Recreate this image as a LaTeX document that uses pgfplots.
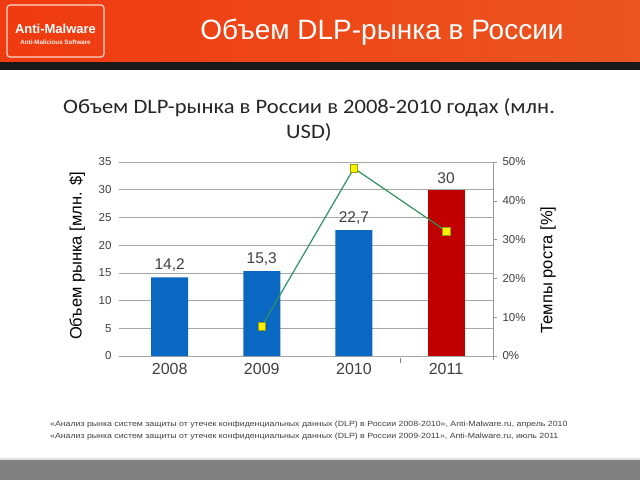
\documentclass[border=0pt]{standalone}
\usepackage{fontspec}
\setmainfont{Liberation Sans}
\newfontfamily\carlito{Carlito}
\usepackage{pgfplots}
\pgfplotsset{compat=1.18}
\definecolor{barblue}{HTML}{0A67C2}
\definecolor{barred}{HTML}{C00000}
\definecolor{linegreen}{HTML}{2F9260}
\definecolor{mkborder}{HTML}{9A9A10}
\definecolor{txtgray}{HTML}{404040}
\definecolor{hdrL}{HTML}{F03A10}
\definecolor{hdrR}{HTML}{EA5520}
\begin{document}
\begin{tikzpicture}[x=1pt,y=1pt]
\useasboundingbox (0,0) rectangle (640,480);
\fill[white] (0,0) rectangle (640,480);
% header
\shade[left color=hdrL, right color=hdrR] (0,418) rectangle (640,480);
\fill[black!90] (0,410) rectangle (640,418);
\draw[white!80!hdrL, line width=1.2pt, rounded corners=3pt] (7,423) rectangle (104,475);
\node[white, font=\bfseries\fontsize{13}{15}\selectfont] at (55.5,451) {Anti-Malware};
\node[white!92!hdrL, font=\bfseries\fontsize{6.2}{7}\selectfont] at (55.5,438) {Anti-Malicious Software};
\node[white, font=\fontsize{28}{31}\selectfont] at (382,448) {Объем DLP-рынка в России};
% chart title
\node[black!85, align=center, xscale=1.1, font=\carlito\fontsize{20.5}{25}\selectfont] at (309,360) {Объем DLP-рынка в России в 2008-2010 годах (млн.\\USD)};
% footnotes
\node[anchor=west, txtgray, xscale=1.17, font=\fontsize{7.5}{9}\selectfont] at (46,55) {«Анализ рынка систем защиты от утечек конфиденциальных данных (DLP) в России 2008-2010», Anti-Malware.ru, апрель 2010};
\node[anchor=west, txtgray, xscale=1.17, font=\fontsize{7.5}{9}\selectfont] at (46,43) {«Анализ рынка систем защиты от утечек конфиденциальных данных (DLP) в России 2009-2011», Anti-Malware.ru, июль 2011};
% bottom bar
\fill[black!12] (0,20) rectangle (640,22);
\fill[gray] (0,0) rectangle (640,20);

\begin{axis}[
  at={(119pt,124pt)}, anchor=south west,
  scale only axis, width=374pt, height=194pt,
  xmin=-0.55, xmax=3.51, ymin=0, ymax=35,
  ytick={0,5,...,35},
  xtick={0,1,2,3}, xticklabels={2008,2009,2010,2011},
  axis line style={draw=none},
  major tick length=0pt,
  ymajorgrids, grid style={gray!70, line width=0.6pt},
  yticklabel style={text=txtgray, font=\fontsize{11.5}{13}\selectfont, xshift=-4pt},
  xticklabel style={text=txtgray, font=\fontsize{16}{18}\selectfont, yshift=-4pt},
  /pgf/number format/assume math mode=true,
  ylabel={Объем рынка [млн. \$]},
  ylabel style={at={(axis description cs:-0.112,0.515)}, anchor=center, font=\fontsize{16.5}{18}\selectfont, text=black},
  clip=false,
]
\addplot[ybar, bar width=37pt, fill=barblue, draw=none, bar shift=0pt,
  nodes near coords, nodes near coords style={text=txtgray, font=\fontsize{15.5}{17}\selectfont, /pgf/number format/use comma, yshift=2pt}]
  coordinates {(0,14.2) (1,15.3) (2,22.7)};
\addplot[ybar, bar width=37pt, fill=barred, draw=none, bar shift=0pt,
  nodes near coords, nodes near coords style={text=txtgray, font=\fontsize{15.5}{17}\selectfont, yshift=3pt}]
  coordinates {(3,30)};
\draw[gray, line width=0.6pt] (axis cs:2.5,-0.3) -- (axis cs:2.5,-1.2);
\end{axis}

\begin{axis}[
  at={(119pt,124pt)}, anchor=south west,
  scale only axis, width=374pt, height=194pt,
  xmin=-0.55, xmax=3.51, ymin=0, ymax=50,
  axis x line=none,
  axis y line*=right,
  y axis line style={gray!80, line width=0.7pt, shorten <=-4pt},
  ytick={0,10,...,50}, yticklabels={0\%,10\%,20\%,30\%,40\%,50\%},
  tick style={gray!80, line width=0.6pt},
  major tick length=4pt,
  tick align=outside,
  yticklabel style={text=txtgray, font=\fontsize{11.5}{13}\selectfont, xshift=2pt},
  ylabel={Темпы роста [\%]},
  ylabel style={at={(axis description cs:1.147,0.443)}, anchor=center, font=\fontsize{16.5}{18}\selectfont, text=black},
  clip=false,
]
\addplot[linegreen, line width=1.2pt, mark=square*, mark size=3.8pt,
  mark options={fill=yellow, draw=mkborder, line width=0.6pt}]
  coordinates {(1,7.7) (2,48.4) (3,32.2)};
\end{axis}
\end{tikzpicture}
\end{document}
